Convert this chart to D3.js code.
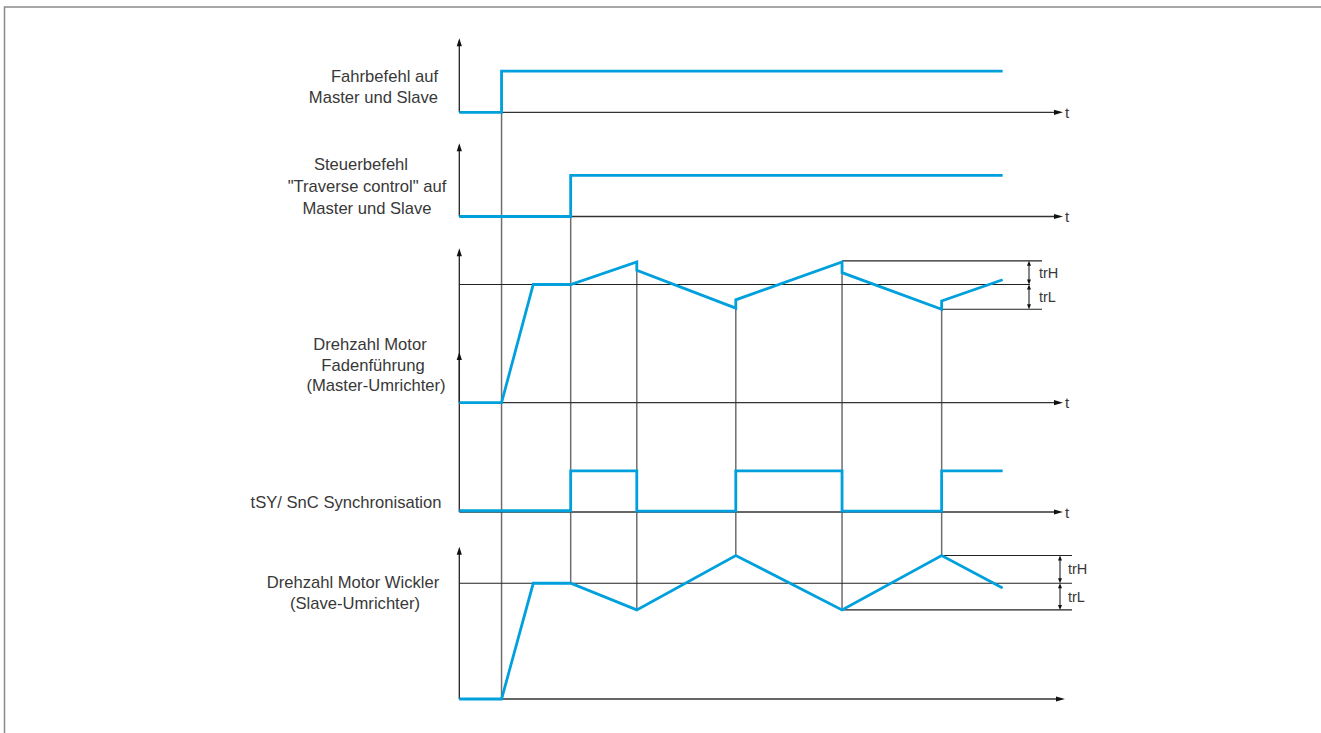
<!DOCTYPE html>
<html><head><meta charset="utf-8">
<script src="https://cdn.jsdelivr.net/npm/d3@7"></script>
<style>
body{margin:0;background:#fff}
svg{display:block}
text{font-family:"Liberation Sans",Arial,Helvetica,sans-serif;fill:#383838}
</style>
</head><body>
<svg id="c" width="1321" height="733"></svg>
<script>
// ---------- data ----------
const timeDomain = [0, 100];
const runTimes = [0, 7, 7, 90];
const runValues = [0, 0, 1, 1];
const traverseTimes = [0, 18.45, 18.45, 90];
const traverseValues = [0, 0, 1, 1];
const masterTimes = [0, 7, 12.25, 18.45, 29.4, 29.4, 45.8, 45.8, 63.4, 63.4, 79.9, 79.9, 90];
const masterValues = [0, 0, 100, 100, 119, 112, 80, 87, 119, 110, 79, 86, 104];
const syncTimes = [0, 18.45, 18.45, 29.4, 29.4, 45.8, 45.8, 63.4, 63.4, 79.9, 79.9, 90];
const syncValues = [0.03, 0.03, 1, 1, 0.02, 0.02, 1, 1, 0.02, 0.02, 1, 1];
const slaveTimes = [0, 7, 12.25, 18.45, 29.4, 45.8, 63.4, 79.9, 90];
const slaveValues = [0, 0, 100, 100, 77, 124, 77, 124, 96];
const masterLevels = {ref: 100, trH: 120, trL: 79};
const slaveLevels = {ref: 100, trH: 124, trL: 77};
const guideTimes = [7, 18.45, 29.4, 45.8, 63.4, 79.9];
const guideFrom = [[0, 1], [1, 1], [2, 119], [2, 80], [2, 119], [2, 79]];
const guideTo = [[4, 0], [4, 100], [4, 77], [4, 124], [4, 77], [4, 124]];
const panelLabels = [
  ["Fahrbefehl auf", "Master und Slave"],
  ["Steuerbefehl", "\"Traverse control\" auf", "Master und Slave"],
  ["Drehzahl Motor", "Fadenführung", "(Master-Umrichter)"],
  ["tSY/ SnC Synchronisation"],
  ["Drehzahl Motor Wickler", "(Slave-Umrichter)"]
];
const axisLabel = "t";
const bandLabels = ["trH", "trL"];

// ---------- layout ----------
const BLUE = "#00a0dc";
const svg = d3.select("#c");
const x = d3.scaleLinear().domain(timeDomain).range([459.3, 1063]);
const panels = [
  {base: 112.3, top: 38.3, ymax: 1.8, lx: [438, 438], anchor: "end", ly: [82, 103], tLabel: true},
  {base: 216.5, top: 143.3, ymax: 1.78, lx: [361, 367, 367], anchor: "middle", ly: [170, 191.5, 214], tLabel: true},
  {base: 402.7, top: 248.3, ymax: 130.6, lx: [370, 373, 376], anchor: "middle", ly: [350, 371, 391], tLabel: true},
  {base: 512, top: 352, ymax: 3.9, lx: [346], anchor: "middle", ly: [508], tLabel: true},
  {base: 699, top: 546.7, ymax: 131.6, lx: [353, 355], anchor: "middle", ly: [588, 609], tLabel: false}
];
panels.forEach(p => { p.y = d3.scaleLinear().domain([0, p.ymax]).range([p.base, p.top]); });

// frame
svg.append("path").attr("d", "M1321,7 H4.5 V733").attr("fill", "none")
  .attr("stroke", "#8a8a8a").attr("stroke-width", 1.5);

// guide verticals
const gG = svg.append("g");
guideTimes.forEach((t, i) => {
  const a = guideFrom[i], b = guideTo[i];
  gG.append("line").attr("x1", x(t)).attr("x2", x(t))
    .attr("y1", panels[a[0]].y(a[1])).attr("y2", panels[b[0]].y(b[1]))
    .attr("stroke", "#6e6e6e").attr("stroke-width", 1.5);
});

// axes
const axG = svg.append("g");
panels.forEach((p, i) => {
  const x0 = x(0), x1 = x(timeDomain[1]) + (i === 4 ? 2 : 0);
  axG.append("line").attr("x1", x0).attr("x2", x0).attr("y1", p.base).attr("y2", p.top + 6)
    .attr("stroke", "#222").attr("stroke-width", 1.3);
  axG.append("path").attr("d", `M${x0 - 2.6},${p.top + 8} L${x0},${p.top} L${x0 + 2.6},${p.top + 8} Z`).attr("fill", "#111");
  axG.append("line").attr("x1", x0).attr("x2", x1 - 6).attr("y1", p.base).attr("y2", p.base)
    .attr("stroke", "#333").attr("stroke-width", 1.3);
  axG.append("path").attr("d", `M${x1 - 9},${p.base - 2.6} L${x1},${p.base} L${x1 - 9},${p.base + 2.6} Z`).attr("fill", "#111");
  if (p.tLabel) axG.append("text").attr("x", x1 + 2).attr("y", p.base + 5.5).attr("font-size", 15).text(axisLabel);
  panelLabels[i].forEach((s, k) => {
    axG.append("text").attr("x", p.lx[k]).attr("y", p.ly[k]).attr("text-anchor", p.anchor)
      .attr("font-size", 16.6).text(s);
  });
});

// reference / band lines
function band(p, lv, hiT, loT, refEnd, lineEnd, markX, labX) {
  const g = svg.append("g").attr("stroke", "#222").attr("stroke-width", 1.1);
  g.append("line").attr("x1", x(0)).attr("x2", refEnd).attr("y1", p.y(lv.ref)).attr("y2", p.y(lv.ref));
  g.append("line").attr("x1", x(hiT)).attr("x2", lineEnd).attr("y1", p.y(lv.trH)).attr("y2", p.y(lv.trH));
  g.append("line").attr("x1", x(loT)).attr("x2", lineEnd).attr("y1", p.y(lv.trL)).attr("y2", p.y(lv.trL));
  [[lv.trH, lv.ref], [lv.ref, lv.trL]].forEach(([a, b], k) => {
    const ya = p.y(a), yb = p.y(b);
    g.append("line").attr("x1", markX).attr("x2", markX).attr("y1", ya + 2).attr("y2", yb - 2);
    g.append("path").attr("d", `M${markX - 2},${ya + 5} L${markX},${ya} L${markX + 2},${ya + 5} Z`).attr("fill", "#111").attr("stroke", "none");
    g.append("path").attr("d", `M${markX - 2},${yb - 5} L${markX},${yb} L${markX + 2},${yb - 5} Z`).attr("fill", "#111").attr("stroke", "none");
    svg.append("text").attr("x", labX).attr("y", (ya + yb) / 2 + 5).attr("font-size", 14.5).text(bandLabels[k]);
  });
}
band(panels[2], masterLevels, 63.4, 79.9, 1030, 1042, 1029, 1039);
band(panels[4], slaveLevels, 79.9, 63.4, 1072, 1072, 1060, 1068);

// signals
const series = [
  [0, runTimes, runValues], [1, traverseTimes, traverseValues], [2, masterTimes, masterValues],
  [3, syncTimes, syncValues], [4, slaveTimes, slaveValues]
];
series.forEach(([pi, ts, vs]) => {
  const p = panels[pi];
  const line = d3.line().x(d => x(d[0])).y(d => p.y(d[1]));
  svg.append("path").attr("d", line(ts.map((t, i) => [t, vs[i]])))
    .attr("fill", "none").attr("stroke", BLUE).attr("stroke-width", 2.8)
    .attr("stroke-linejoin", "miter");
});
</script>
</body></html>
